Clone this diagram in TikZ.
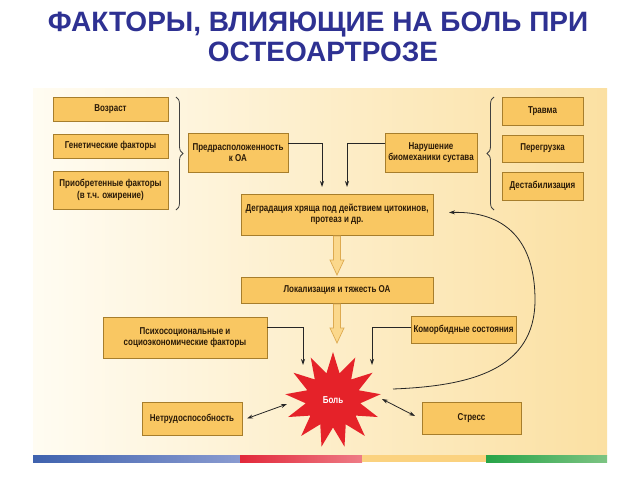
\documentclass[tikz,border=0pt]{standalone}
\usepackage{fontspec}
\setmainfont{Liberation Sans}
\newfontfamily\boxfont[FakeStretch=0.8]{Liberation Sans Bold}
\newfontfamily\titlefont{Liberation Sans Bold}
\usetikzlibrary{arrows.meta,calc,shapes.geometric,decorations.pathreplacing}
\definecolor{titleblue}{HTML}{2E3192}
\definecolor{boxfill}{HTML}{F9C762}
\definecolor{boxline}{HTML}{A77E2C}
\definecolor{boxtext}{HTML}{2B1B08}
\definecolor{starred}{HTML}{E52229}
\definecolor{hollowfill}{HTML}{FBD88C}
\definecolor{hollowline}{HTML}{DDAA50}
\definecolor{panelleft}{HTML}{FFFCF2}
\definecolor{panelright}{HTML}{FBE0A2}
\definecolor{stripeblue}{HTML}{3F62AE}
\definecolor{stripeblueb}{HTML}{8A9BD0}
\definecolor{stripered}{HTML}{E2283A}
\definecolor{striperedb}{HTML}{EE7C86}
\definecolor{stripeyellow}{HTML}{FBD27F}
\definecolor{stripegreen}{HTML}{27A448}
\definecolor{stripegreenb}{HTML}{7DC483}
\begin{document}
\begin{tikzpicture}[x=1pt,y=-1pt,inner sep=0pt,outer sep=0pt,
box/.style={draw=boxline,fill=boxfill,line width=0.9pt,rectangle,align=center,text=boxtext,font=\boxfont\fontsize{10}{11.5}\selectfont},
arr/.style={-{Stealth[length=6pt,width=4pt]},line width=0.8pt,black!85},
dbl/.style={{Stealth[length=6pt,width=4pt]}-{Stealth[length=6pt,width=4pt]},line width=0.8pt,black!85},
hollow/.style={draw=hollowline,fill=hollowfill,line width=0.7pt},
brc/.style={decorate,decoration={brace,amplitude=7pt},line width=0.8pt,black!75}]

\useasboundingbox (0,0) rectangle (638,479);
% title
\draw (318,31) node[anchor=base,text=titleblue,font=\titlefont\fontsize{28}{30}\selectfont] (title1) {ФАКТОРЫ, ВЛИЯЮЩИЕ НА БОЛЬ ПРИ};
\draw (323,61) node[anchor=base,text=titleblue,font=\titlefont\fontsize{28}{30}\selectfont] (title2) {ОСТЕОАРТРОЗЕ};
% panel
\shade[left color=panelleft,right color=panelright] (33,88) rectangle (607,455);
\shade[left color=stripeblue, right color=stripeblueb] (33,455) rectangle (240,462);
\shade[left color=stripered, right color=striperedb] (240,455) rectangle (362,462);
\fill[stripeyellow] (362,455) rectangle (486,462);
\shade[left color=stripegreen, right color=stripegreenb] (486,455) rectangle (607,462);

% left group
\draw (110.5,109) node[box,minimum width=115,minimum height=24] (vozr) {Возраст};
\draw (110.5,146) node[box,minimum width=115,minimum height=24] (genet) {Генетические факторы};
\draw (110.5,190) node[box,minimum width=115,minimum height=38] (priobr) {Приобретенные факторы\\(в т.ч. ожирение)};
\draw[brc] (176,97) -- (176,210);
\draw (238,152.5) node[box,minimum width=100,minimum height=39] (predr) {Предрасположенность\\к ОА};

% right group
\draw (542.5,111) node[box,minimum width=81,minimum height=28] (travma) {Травма};
\draw (542.5,148.5) node[box,minimum width=81,minimum height=27] (peregr) {Перегрузка};
\draw (542.5,186) node[box,minimum width=81,minimum height=28] (destab) {Дестабилизация};
\draw[brc] (494,210) -- (494,97);
\draw (431,152.5) node[box,minimum width=92,minimum height=39] (narush) {Нарушение\\биомеханики сустава};

% middle
\draw (337,214.5) node[box,minimum width=192,minimum height=41] (degr) {Деградация хряща под действием цитокинов,\\протеаз и др.};
\draw (337,290) node[box,minimum width=192,minimum height=26] (lokal) {Локализация и тяжесть ОА};
\draw (185,337.5) node[box,minimum width=164,minimum height=41] (psych) {Психосоциональные и\\социоэкономические факторы};
\draw (463.5,329.5) node[box,minimum width=105,minimum height=27] (komorb) {Коморбидные состояния};
\draw (333,400) node[star,star points=13,star point ratio=1.75,minimum size=96,fill=starred,text=white,font=\boxfont\fontsize{10}{11.5}\selectfont] (bol) {Боль};
\draw (192,418.5) node[box,minimum width=100,minimum height=33] (netrud) {Нетрудоспособность};
\draw (471.5,418) node[box,minimum width=99,minimum height=32] (stress) {Стресс};

% connectors
\draw[arr] ($(predr.north east)+(0,10)$) -| ($(degr.north west)+(81,-7)$);
\draw[arr] ($(narush.north west)+(0,10)$) -| ($(degr.north west)+(106,-7)$);
\draw[arr] ($(psych.north east)+(0,10)$) -| ($(bol.center)+(-30,-35)$);
\draw[arr] ($(komorb.north west)+(0,11)$) -| ($(bol.center)+(39,-35)$);
\draw[hollow] ($(degr.south)+(-3.5,1)$) -- ++(0,24) -- ++(-3.5,0) -- ($(lokal.north)+(0,-2)$) -- ++(7,-15) -- ++(-3.5,0) -- ++(0,-24) -- cycle;
\draw[hollow] ($(lokal.south)+(-3.5,1)$) -- ++(0,24) -- ++(-3.5,0) -- ($(lokal.south)+(0,40)$) -- ++(7,-15) -- ++(-3.5,0) -- ++(0,-24) -- cycle;
\draw[arr] ($(bol.center)+(60,-11)$) .. controls (470,386) and (535,370) .. (535,300) .. controls (535,240) and (505,211) .. ($(degr.east)+(16,-2)$);
\draw[dbl] (netrud.east) ++(5,0) -- ($(bol.center)+(-46,4)$);
\draw[dbl] ($(bol.center)+(49,-1)$) -- ($(stress.west)+(-7,-2)$);
\end{tikzpicture}
\end{document}
